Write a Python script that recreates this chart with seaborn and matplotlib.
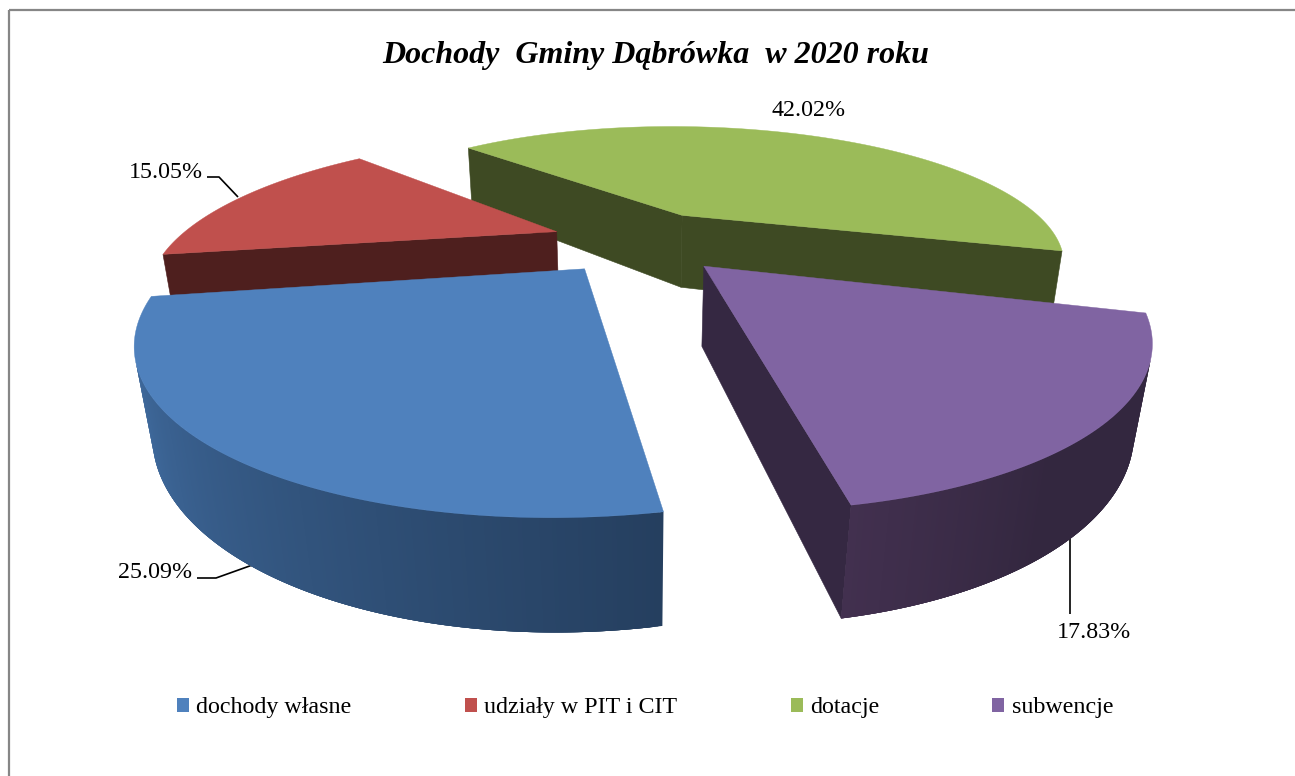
import numpy as np
import matplotlib
matplotlib.use("Agg")
import matplotlib.pyplot as plt
from matplotlib.patches import Patch, Polygon, Rectangle
from matplotlib.colors import to_rgb
import seaborn as sns

# ---- data ----
title = "Dochody  Gminy Dąbrówka  w 2020 roku"
categories = ["dochody własne", "udziały w PIT i CIT", "dotacje", "subwencje"]
shares = [25.09, 15.05, 42.02, 17.83]
share_labels = ["25.09%", "15.05%", "42.02%", "17.83%"]

# ---- style ----
sns.set_theme(style="white")
plt.rcParams["font.family"] = ["Liberation Serif", "DejaVu Serif"]
top_colors = sns.color_palette(["#4f81bd", "#c0504d", "#9bbb59", "#8064a2"])
face_colors = ["#233d5c", "#4e1f1e", "#3e4a23", "#352842"]
rim_from = ["#253f5f", "#4e1f1e", "#3e4a23", "#33273f"]   # rim colour at start of slice
rim_to = ["#4675ad", "#4e1f1e", "#3e4a23", "#42304f"]     # rim colour at end of slice
rim_span = [1.0, 1.0, 1.0, 0.35]                          # last share of the rim the gradient covers

# ---- camera model of the 3-D pie ----
START = 170.1      # first slice angle, clockwise from the back of the pie
EXPLODE = 0.235
THICK = 0.22
CX, CY = 640.0, 241.0
F = 381.0
SIN_E = 0.355
COS_E = np.sqrt(1 - SIN_E**2)
DIST = 2.67


def project(x, y, z=0.0):
    depth = 1 + (y * COS_E - z * SIN_E) / DIST
    return CX + F * x / depth, CY - F * (y * SIN_E + z * COS_E) / depth


fig = plt.figure(figsize=(12.95, 7.76), dpi=100, facecolor="white")
ax = fig.add_axes([0, 0, 1, 1])
ax.set_xlim(0, 1295)
ax.set_ylim(776, 0)
ax.axis("off")

ax.add_patch(Rectangle((8.5, 10), 1400, 900, fill=False, ec="#868686", lw=1.6, zorder=0))

edges = START + np.concatenate([[0], np.cumsum(shares)]) * 3.6 * 100 / np.sum(shares)


def signed_area(pts):
    p = np.asarray(pts)
    return 0.5 * np.sum(p[:, 0] * np.roll(p[:, 1], -1) - np.roll(p[:, 0], -1) * p[:, 1])


def quad(a, b, c, d, **kw):
    pts = [a, b, c, d]
    # only walls that face the viewer are drawn
    if signed_area(pts) < 0:
        ax.add_patch(Polygon(pts, closed=True, **kw))


def draw_slice(i, zorder):
    a0, a1 = np.radians(edges[i]), np.radians(edges[i + 1])
    mid = (a0 + a1) / 2
    ox, oy = EXPLODE * np.sin(mid), EXPLODE * np.cos(mid)
    n = 240
    t = np.linspace(a0, a1, n)
    xs, ys = ox + np.sin(t), oy + np.cos(t)
    top = [project(x, y) for x, y in zip(xs, ys)]
    bot = [project(x, y, -THICK) for x, y in zip(xs, ys)]
    apex_t, apex_b = project(ox, oy), project(ox, oy, -THICK)
    # radial walls
    fc = face_colors[i]
    style = dict(fc=fc, ec=fc, lw=0.4, zorder=zorder)
    quad(apex_t, top[0], bot[0], apex_b, **style)
    quad(top[-1], apex_t, apex_b, bot[-1], **style)
    # outer rim with its gradient; strips overlap so no seams show through
    c0, c1 = np.array(to_rgb(rim_from[i])), np.array(to_rgb(rim_to[i]))
    span = rim_span[i]
    for k in range(n - 1):
        frac = max((k / (n - 2) - (1 - span)) / span, 0.0)
        col = c0 + (c1 - c0) * frac
        e = min(k + 4, n - 1)
        quad(top[k], top[e], bot[e], bot[k], fc=col, ec="none", lw=0, zorder=zorder + 0.1)
    ax.add_patch(Polygon([apex_t] + top, closed=True, fc=top_colors[i], ec=top_colors[i],
                         lw=0.3, zorder=zorder + 0.2))


for order, i in enumerate([2, 1, 3, 0]):
    draw_slice(i, 2 + order)

ax.text(656, 55, title, ha="center", va="center", fontsize=23, fontweight="bold",
        fontstyle="italic", color="black", zorder=10)

label_style = dict(ha="left", va="center", fontsize=17.3, color="black", zorder=10)
ax.text(771, 111, share_labels[2], **label_style)
ax.text(129, 172, share_labels[1], **label_style)
ax.text(118, 573, share_labels[0], **label_style)
ax.text(1057, 632, share_labels[3], **label_style)

line_style = dict(color="black", lw=1.2, solid_capstyle="butt", zorder=1)
ax.plot([207, 219, 238], [177, 177, 197], **line_style)
ax.plot([197, 216, 258], [578, 578, 563], **line_style)
ax.plot([1070, 1070], [532, 614], **line_style)

handles = [Patch(fc=c, ec="none") for c in top_colors]
ax.legend(handles, categories, loc="center", bbox_to_anchor=(645 / 1295, 1 - 708 / 776), ncol=4,
          frameon=False, fontsize=17.3, handlelength=0.5, handleheight=0.5,
          handletextpad=0.3, columnspacing=4.72, labelcolor="black")

fig.savefig("out.png", dpi=100)
